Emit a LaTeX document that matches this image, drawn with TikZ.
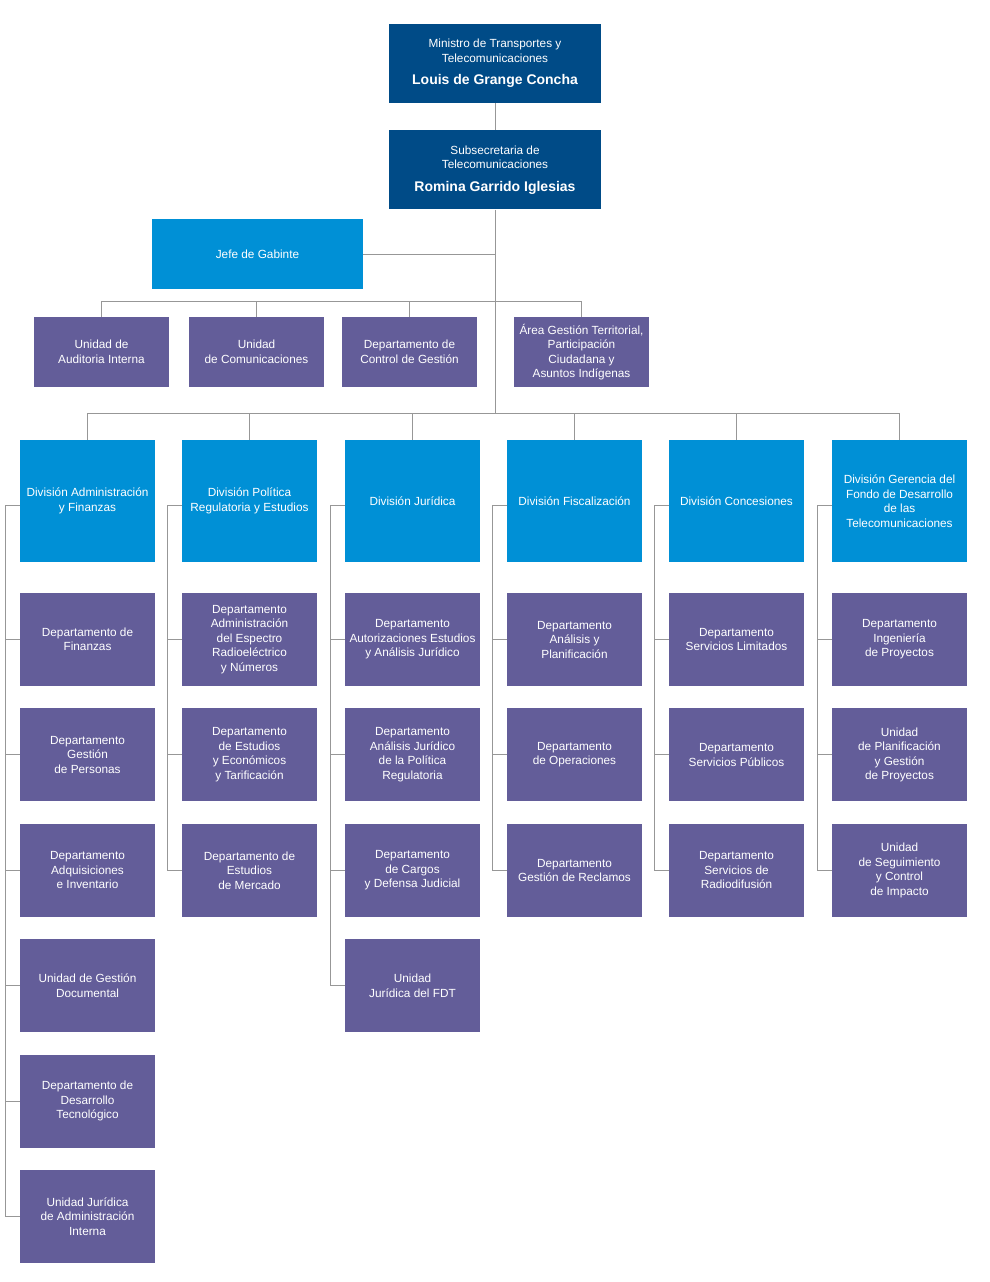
\documentclass[tikz,border=0pt]{standalone}
\usepackage{fontspec}
\setmainfont{Liberation Sans}
\usepackage{xcolor}
\usetikzlibrary{positioning}
\definecolor{ministro}{HTML}{004B87}
\definecolor{division}{HTML}{0090D6}
\definecolor{unidad}{HTML}{635D99}
\definecolor{linea}{HTML}{979797}
\tikzset{
  caja/.style={rectangle, inner sep=0pt, text=white, align=center, font=\fontsize{11.8}{14.5}\selectfont},
  jefatura/.style={caja, fill=ministro, minimum width=212pt, minimum height=79pt},
  gabinete/.style={caja, fill=division, minimum width=211pt, minimum height=70pt},
  staff/.style={caja, fill=unidad, minimum width=135pt, minimum height=70pt},
  divbox/.style={caja, fill=division, minimum width=135pt, minimum height=122pt},
  depto/.style={caja, fill=unidad, minimum width=135pt, minimum height=93pt},
  enlace/.style={draw=linea, line width=1pt},
}
\newcommand{\nombre}[1]{{\fontsize{14}{16}\selectfont\bfseries #1}}

\begin{document}
\begin{tikzpicture}[x=1pt, y=-1pt]
\useasboundingbox (0,0) rectangle (990,1282);
% Top: ministro, subsecretaria, gabinete
\node[jefatura] (min) at (495,63.5) {Ministro de Transportes y\\Telecomunicaciones\\[8pt]\nombre{Louis de Grange Concha}};
\node[jefatura, below=27pt of min] (sub) {Subsecretaria de\\Telecomunicaciones\\[8pt]\nombre{Romina Garrido Iglesias}};
\node[gabinete] (jefe) at (257.5,254) {Jefe de Gabinte};
\coordinate (barraStaff) at (495,301);
\coordinate (barraDiv) at (495,413);
\draw[enlace] (min) -- (sub);
\draw[enlace] (sub) -- (barraDiv);
\draw[enlace] (jefe.east) -- (jefe.east -| sub);
% Staff units
\node[staff] (stA) at (101.5,352) {Unidad de\\Auditoria Interna};
\node[staff] (stB) at (256.5,352) {Unidad\\de Comunicaciones};
\node[staff] (stC) at (409.5,352) {Departamento de\\Control de Gestión};
\node[staff] (stD) at (581.5,352) {Área Gestión Territorial,\\Participación\\Ciudadana y\\Asuntos Indígenas};
\draw[enlace] (stA.north |- barraStaff) -- (stD.north |- barraStaff);
\foreach \s in {stA, stB, stC, stD} {
  \draw[enlace] (\s.north) -- (\s.north |- barraStaff);
}
% Divisions
\foreach \d/\x/\t in {divA/87.5/{División Administración\\y Finanzas},
                      divB/249.5/{División Política\\Regulatoria y Estudios},
                      divC/412.5/{División Jurídica},
                      divD/574.5/{División Fiscalización},
                      divE/736.5/{División Concesiones},
                      divF/899.5/{División Gerencia del\\Fondo de Desarrollo\\de las\\Telecomunicaciones}} {
  \node[divbox] (\d) at (\x,501) {\t};
  \draw[enlace] (\d.north) -- (\d.north |- barraDiv);
  \coordinate (lomo\d) at ([xshift=-14pt, yshift=-4pt]\d.west);
  \draw[enlace] (lomo\d) -- (lomo\d -| \d.west);
}
\draw[enlace] (divA.north |- barraDiv) -- (divF.north |- barraDiv);
% Column 1: Administracion y Finanzas
\foreach \t [count=\i] in {{Departamento de\\Finanzas}, {Departamento\\Gestión\\de Personas},
    {Departamento\\Adquisiciones\\e Inventario}, {Unidad de Gestión\\Documental},
    {Departamento de\\Desarrollo\\Tecnológico}, {Unidad Jurídica\\de Administración\\Interna}} {
  \node[depto] (a\i) at (87.5,{639.5+115.4*(\i-1)}) {\t};
  \draw[enlace] (a\i.west) -- (a\i.west -| lomodivA);
}
\draw[enlace] (lomodivA) |- (a6.west);
% Column 2: Politica Regulatoria
\foreach \t [count=\i] in {{Departamento\\Administración\\del Espectro\\Radioeléctrico\\y Números},
    {Departamento\\de Estudios\\y Económicos\\y Tarificación}, {Departamento de\\Estudios\\de Mercado}} {
  \node[depto] (b\i) at (249.5,{639.5+115.4*(\i-1)}) {\t};
  \draw[enlace] (b\i.west) -- (b\i.west -| lomodivB);
}
\draw[enlace] (lomodivB) |- (b3.west);
% Column 3: Juridica
\foreach \t [count=\i] in {{Departamento\\Autorizaciones Estudios\\y Análisis Jurídico},
    {Departamento\\Análisis Jurídico\\de la Política\\Regulatoria}, {Departamento\\de Cargos\\y Defensa Judicial},
    {Unidad\\Jurídica del FDT}} {
  \node[depto] (c\i) at (412.5,{639.5+115.4*(\i-1)}) {\t};
  \draw[enlace] (c\i.west) -- (c\i.west -| lomodivC);
}
\draw[enlace] (lomodivC) |- (c4.west);
% Column 4: Fiscalizacion
\foreach \t [count=\i] in {{Departamento\\Análisis y\\Planificación}, {Departamento\\de Operaciones},
    {Departamento\\Gestión de Reclamos}} {
  \node[depto] (d\i) at (574.5,{639.5+115.4*(\i-1)}) {\t};
  \draw[enlace] (d\i.west) -- (d\i.west -| lomodivD);
}
\draw[enlace] (lomodivD) |- (d3.west);
% Column 5: Concesiones
\foreach \t [count=\i] in {{Departamento\\Servicios Limitados}, {Departamento\\Servicios Públicos},
    {Departamento\\Servicios de\\Radiodifusión}} {
  \node[depto] (e\i) at (736.5,{639.5+115.4*(\i-1)}) {\t};
  \draw[enlace] (e\i.west) -- (e\i.west -| lomodivE);
}
\draw[enlace] (lomodivE) |- (e3.west);
% Column 6: Gerencia del FDT
\foreach \t [count=\i] in {{Departamento\\Ingeniería\\de Proyectos}, {Unidad\\de Planificación\\y Gestión\\de Proyectos},
    {Unidad\\de Seguimiento\\y Control\\de Impacto}} {
  \node[depto] (f\i) at (899.5,{639.5+115.4*(\i-1)}) {\t};
  \draw[enlace] (f\i.west) -- (f\i.west -| lomodivF);
}
\draw[enlace] (lomodivF) |- (f3.west);
\end{tikzpicture}
\end{document}
